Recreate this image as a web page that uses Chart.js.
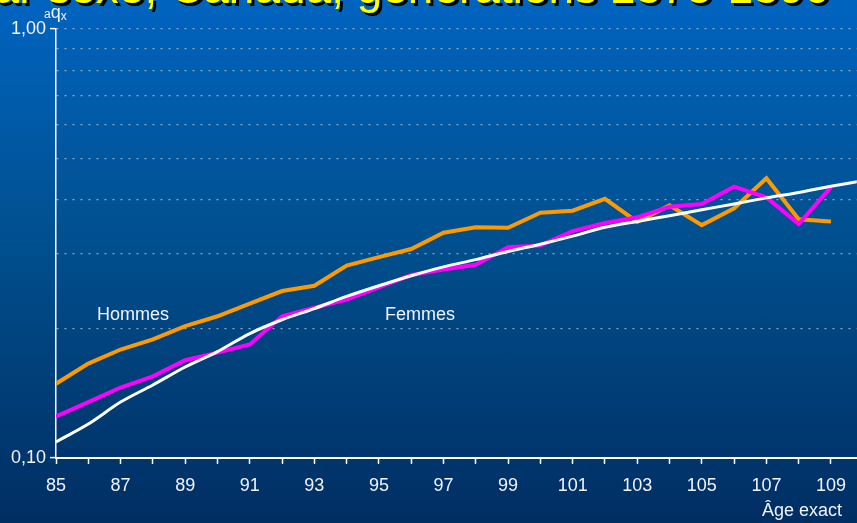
<!DOCTYPE html>
<html>
<head>
<meta charset="utf-8">
<script src="https://cdn.jsdelivr.net/npm/chart.js@4"></script>
<style>
html,body{margin:0;padding:0;}
#wrap{position:relative;width:857px;height:523px;overflow:hidden;
  background:linear-gradient(to bottom,#0064c0 0%,#00508f 45%,#002e63 100%);
  font-family:"Liberation Sans",Arial,sans-serif;color:#fff;}
#c{position:absolute;left:0;top:0;}
.lbl{position:absolute;font-size:18px;white-space:nowrap;color:#f0f4fa;}
#title{position:absolute;left:-32px;top:-40px;font-size:46px;color:#ffff00;white-space:nowrap;
  text-shadow:3px 3px 0 #000;font-family:"Liberation Sans",Arial,sans-serif;}
</style>
</head>
<body>
<div id="wrap">
<canvas id="c" width="857" height="523"></canvas>
<div id="title">par sexe, Canada, générations 1875-1890</div>
<div class="lbl" style="left:44px;top:2px;font-size:18px;"><span style="font-size:12px">a</span>q<span style="font-size:12px;position:relative;top:2px">x</span></div>
<div class="lbl" style="left:97px;top:304px;">Hommes</div>
<div class="lbl" style="left:385px;top:304px;">Femmes</div>
<div class="lbl" style="left:762px;top:500px;">Âge exact</div>
</div>
<script>
const ages = [85,86,87,88,89,90,91,92,93,94,95,96,97,98,99,100,101,102,103,104,105,106,107,108,109];
const hommes = [0.149,0.166,0.179,0.189,0.203,0.214,0.229,0.245,0.252,0.281,0.294,0.307,0.335,0.345,0.344,0.373,0.377,0.402,0.355,0.388,0.349,0.382,0.449,0.360,0.356];
const femmes = [0.125,0.135,0.146,0.155,0.169,0.176,0.184,0.214,0.224,0.234,0.250,0.267,0.275,0.282,0.310,0.313,0.338,0.353,0.364,0.385,0.391,0.429,0.405,0.351,0.428];
const ajustAges = [85,86,87,88,89,90,91,92,93,94,95,96,97,98,99,100,101,102,103,104,105,106,107,108,109,110];
const ajuste = [0.109,0.120,0.135,0.148,0.163,0.177,0.195,0.210,0.223,0.238,0.252,0.266,0.279,0.290,0.303,0.315,0.329,0.345,0.356,0.367,0.379,0.391,0.404,0.416,0.430,0.443];
const yTicks = [0.1,0.2,0.3,0.4,0.5,0.6,0.7,0.8,0.9,1.0];
const yTickLabels = {"0.1":"0,10","1":"1,00"};
const xTicks = [85,86,87,88,89,90,91,92,93,94,95,96,97,98,99,100,101,102,103,104,105,106,107,108,109];

const pts = (xs, ys) => ys.map((v,i)=>({x:xs[i], y:v}));
const isVal = (t, v) => t && Math.abs(t.value - v) < 1e-6;

new Chart(document.getElementById('c'), {
  type: 'line',
  data: {
    datasets: [
      {label:'Ajustement', data: pts(ajustAges, ajuste), borderColor:'#ffffff', borderWidth:3, pointRadius:0, order:0, tension:0.3},
      {label:'Femmes', data: pts(ages, femmes), borderColor:'#ff00ff', borderWidth:4, pointRadius:0, order:1, tension:0},
      {label:'Hommes', data: pts(ages, hommes), borderColor:'#ff9900', borderWidth:4, pointRadius:0, order:2, tension:0}
    ]
  },
  options: {
    responsive:false, animation:false,
    layout:{padding:{top:29,right:0,left:0,bottom:0}},
    plugins:{legend:{display:false}, tooltip:{enabled:false}},
    scales:{
      x:{
        type:'linear', min:85, max:109.8,
        afterBuildTicks:(s)=>{ s.ticks = xTicks.map(v=>({value:v})); },
        afterFit:(s)=>{ s.height = 65; },
        border:{color:'#ffffff', width:2},
        grid:{drawOnChartArea:false, drawTicks:true, tickLength:6, tickColor:'#ffffff', tickWidth:1.5},
        ticks:{autoSkip:false, maxRotation:0, color:'#f0f4fa', padding:11,
          font:{family:'"Liberation Sans", Arial, sans-serif', size:18},
          callback:(v)=> (v % 2 === 1 ? String(v) : '')}
      },
      y:{
        type:'logarithmic', min:0.1, max:1.0,
        afterBuildTicks:(s)=>{ s.ticks = yTicks.map(v=>({value:v})); },
        afterFit:(s)=>{ s.width = 56; },
        border:{color:'#ffffff', width:1.5, dash:[2,6]},
        grid:{
          drawTicks:true, tickLength:6,
          color:(ctx)=> isVal(ctx.tick,0.1) ? 'rgba(0,0,0,0)' : 'rgba(160,170,185,0.95)',
          tickColor:(ctx)=> (isVal(ctx.tick,0.1) || isVal(ctx.tick,1)) ? '#ffffff' : 'rgba(0,0,0,0)',
          lineWidth:1.2, tickBorderDash:[], tickWidth:1.5
        },
        ticks:{autoSkip:false, color:'#f0f4fa', padding:4,
          font:{family:'"Liberation Sans", Arial, sans-serif', size:18},
          callback:(v)=> yTickLabels[String(+v.toFixed(2))] || ''}
      }
    }
  }
});
</script>
</body>
</html>
